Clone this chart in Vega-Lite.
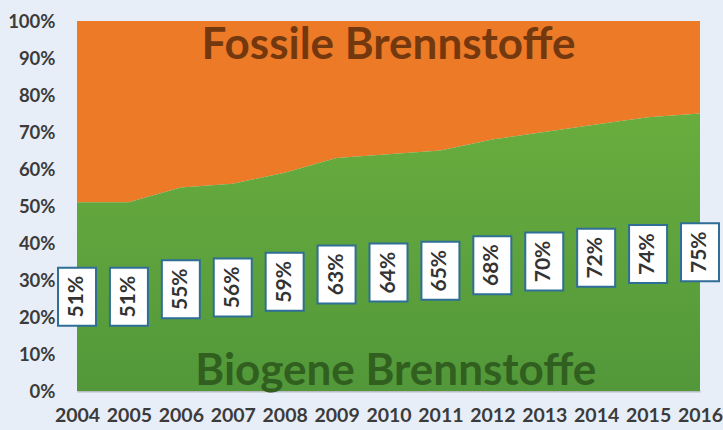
{
  "$schema": "https://vega.github.io/schema/vega-lite/v6.json",
  "width": 623,
  "height": 370,
  "autosize": "none",
  "padding": {"left": 77, "top": 21, "right": 23, "bottom": 39},
  "background": "#e8eef7",
  "config": {"view": {"stroke": null}, "font": "Lato", "axis": {"labelOverlap": false, "labelFontWeight": "bold", "labelColor": "#3b3b3b", "ticks": false, "grid": false, "title": null}},
  "datasets": {
    "share": [
      {"year": 2004, "bio": 0.51},
      {"year": 2005, "bio": 0.51},
      {"year": 2006, "bio": 0.55},
      {"year": 2007, "bio": 0.56},
      {"year": 2008, "bio": 0.59},
      {"year": 2009, "bio": 0.63},
      {"year": 2010, "bio": 0.64},
      {"year": 2011, "bio": 0.65},
      {"year": 2012, "bio": 0.68},
      {"year": 2013, "bio": 0.70},
      {"year": 2014, "bio": 0.72},
      {"year": 2015, "bio": 0.74},
      {"year": 2016, "bio": 0.75}
    ]
  },
  "resolve": {"scale": {"y": "independent"}, "axis": {"y": "independent"}},
  "layer": [
    {
      "data": {"name": "share"},
      "mark": {"type": "area", "color": "#ec7a27", "interpolate": "linear"},
      "encoding": {
        "x": {"field": "year", "type": "quantitative", "scale": {"domain": [2004, 2016], "nice": false, "zero": false},
          "axis": {"title": null, "values": [2004,2005,2006,2007,2008,2009,2010,2011,2012,2013,2014,2015,2016], "format": "d", "labelFontSize": 19.5, "labelPadding": 15, "labelOverlap": false, "domainColor": "#b8bcc0", "domainWidth": 2, "labelFlush": false}},
        "y": {"field": "bio", "type": "quantitative", "scale": {"domain": [0, 1], "nice": false},
          "axis": {"title": null, "format": ".0%", "values": [0,0.1,0.2,0.3,0.4,0.5,0.6,0.7,0.8,0.9,1], "labelOverlap": false, "labelFlush": false, "labelFontSize": 18.5, "labelPadding": 22, "domain": false}},
        "y2": {"datum": 1}
      }
    },
    {
      "data": {"name": "share"},
      "mark": {"type": "area", "interpolate": "linear",
        "color": {"gradient": "linear", "x1": 0, "y1": 0, "x2": 0, "y2": 1,
          "stops": [{"offset": 0, "color": "#69ad3e"}, {"offset": 1, "color": "#52983a"}]}},
      "encoding": {
        "x": {"field": "year", "type": "quantitative"},
        "y": {"field": "bio", "type": "quantitative", "scale": {"domain": [0, 1], "nice": false}, "axis": null},
        "y2": {"datum": 0}
      }
    },
    {
      "data": {"values": [{"label": "Fossile Brennstoffe", "year": 2010.0, "pos": 0.897}]},
      "mark": {"type": "text", "fontSize": 44, "fontWeight": "bold", "color": "#74380f", "align": "center", "baseline": "alphabetic"},
      "encoding": {
        "x": {"field": "year", "type": "quantitative"},
        "y": {"field": "pos", "type": "quantitative", "scale": {"domain": [0, 1], "nice": false}, "axis": null},
        "text": {"field": "label"}
      }
    },
    {
      "data": {"values": [{"label": "Biogene Brennstoffe", "year": 2010.14, "pos": 0.016}]},
      "mark": {"type": "text", "fontSize": 44, "fontWeight": "bold", "color": "#305f20", "align": "center", "baseline": "alphabetic"},
      "encoding": {
        "x": {"field": "year", "type": "quantitative"},
        "y": {"field": "pos", "type": "quantitative", "scale": {"domain": [0, 1], "nice": false}, "axis": null},
        "text": {"field": "label"}
      }
    },
    {
      "data": {"name": "share"},
      "mark": {"type": "point", "filled": true, "fill": "white", "stroke": "#2f6e96", "strokeWidth": 2, "opacity": 1, "size": 3364,
        "shape": "M-0.655,-1H0.655V1H-0.655Z"},
      "encoding": {
        "x": {"field": "year", "type": "quantitative"},
        "y": {"field": "bio", "type": "quantitative", "scale": {"domain": [0, 2], "nice": false}, "axis": null}
      }
    },
    {
      "data": {"name": "share"},
      "mark": {"type": "text", "angle": 270, "fontSize": 21, "fontWeight": "bold", "color": "#333333", "align": "center", "baseline": "middle"},
      "encoding": {
        "x": {"field": "year", "type": "quantitative"},
        "y": {"field": "bio", "type": "quantitative", "scale": {"domain": [0, 2], "nice": false}, "axis": null},
        "text": {"field": "bio", "type": "quantitative", "format": ".0%"}
      }
    }
  ]
}
